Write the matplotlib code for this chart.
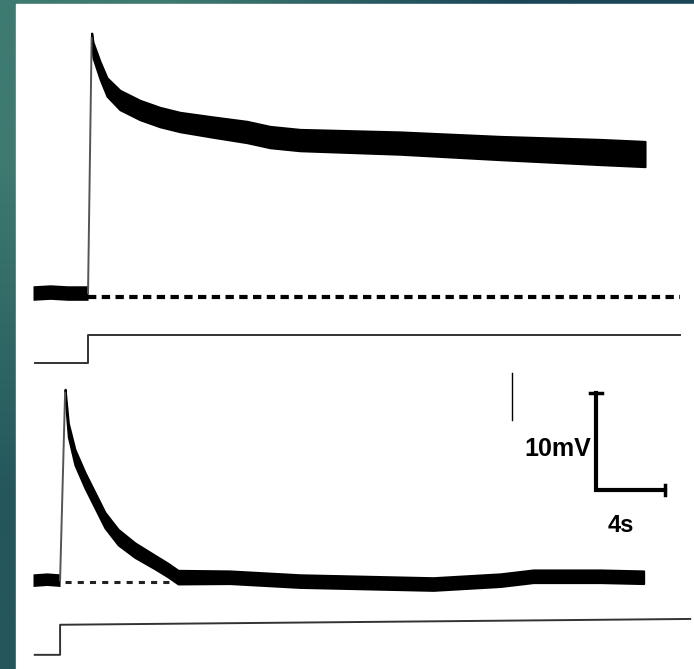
import numpy as np
import matplotlib.pyplot as plt
from matplotlib.patches import Rectangle

# upper record: time (s) and depolarisation (mV)
top_t = [0.0, 1.0, 2.0, 3.19, 3.40, 3.48, 3.88, 4.29, 5.04, 6.20, 7.36,
         8.52, 10.43, 12.41, 13.74, 15.48, 21.28, 27.07, 32.87, 35.48]
top_mv = [0.0, 0.1, 0.0, 0.0, 26.3, 25.05, 22.99, 21.24, 19.9, 18.87, 18.14,
          17.63, 17.11, 16.6, 16.08, 15.77, 15.46, 14.95, 14.54, 14.33]
top_noise = [0.75, 0.75, 0.75, 0.75, 0.5, 0.8, 0.9, 0.95, 1.0, 1.0, 1.0,
             1.0, 1.05, 1.1, 1.1, 1.1, 1.15, 1.2, 1.3, 1.3]

# lower record
bot_t = [0.0, 0.8, 1.57, 1.86, 2.05, 2.43, 3.01, 3.59, 4.17, 4.94, 5.91,
         7.07, 7.83, 8.41, 11.4, 15.5, 23.2, 27.1, 29.0, 32.9, 35.4]
bot_mv = [0.0, 0.1, 0.0, 19.28, 15.46, 12.68, 10.31, 8.25, 6.19, 4.43, 3.09,
          1.86, 1.03, 0.31, 0.3, -0.1, -0.4, 0.0, 0.4, 0.4, 0.3]
bot_noise = [0.65, 0.65, 0.65, 0.4, 0.7, 0.8, 0.8, 0.8, 0.8, 0.8, 0.75,
             0.7, 0.7, 0.7, 0.65, 0.65, 0.65, 0.65, 0.65, 0.65, 0.65]

# stimulus monitor traces (display mV)
stim_top_t = [0.1, 3.19, 3.19, 37.5]
stim_top_v = [-7.2, -7.2, -4.33, -4.33]
stim_bot_t = [0.1, 1.57, 1.57, 38.1]
stim_bot_v = [-7.7, -7.7, -4.6, -4.0]

# resting level reference (dashed)
rest_top_t = [3.19, 37.5]
rest_bot_t = [1.86, 7.9]

scale_mv = 10
scale_s = 4

# layout
bot_offset = -29.6
onset_top = 3
onset_bot = 2

fig = plt.figure(figsize=(6.94, 6.69), dpi=100)

# teal slide background
bg = fig.add_axes([0, 0, 1, 1])
grad = np.array([[[62, 122, 112], [26, 70, 88]],
                 [[36, 86, 92], [20, 52, 72]]]) / 255
bg.imshow(grad, extent=[0, 1, 0, 1], aspect='auto', interpolation='bilinear')
bg.add_patch(Rectangle((16 / 694, 0), 1, 1 - 4 / 669, color='white'))
bg.set_xlim(0, 1)
bg.set_ylim(0, 1)
bg.axis('off')

ax = fig.add_axes([0, 0, 1, 1])
ax.patch.set_alpha(0)
ax.set_xlim(-1.913, 38.32)
ax.set_ylim(-38.76, 30.21)
ax.axis('off')


def draw_trace(t, mv, noise, onset, offset):
    t = np.array(t)
    mv = np.array(mv) + offset
    nz = np.array(noise)
    # pre-stimulus baseline
    ax.fill_between(t[:onset + 1], mv[:onset + 1] - nz[:onset + 1],
                    mv[:onset + 1] + nz[:onset + 1], color='black', lw=0)
    # fast rise, thin
    ax.plot(t[onset:onset + 2], mv[onset:onset + 2], color='#555555', lw=1.4)
    # decay and plateau
    ax.fill_between(t[onset + 1:], mv[onset + 1:] - nz[onset + 1:],
                    mv[onset + 1:] + nz[onset + 1:], color='black', lw=1.5,
                    edgecolor='black')


draw_trace(top_t, top_mv, top_noise, onset_top, 0)
draw_trace(bot_t, bot_mv, bot_noise, onset_bot, bot_offset)

ax.plot(rest_top_t, [-0.4, -0.4], color='black', lw=3, dashes=(2.0, 1.3))
ax.plot(rest_bot_t, [bot_offset - 0.2] * 2, color='#222222', lw=2.2,
        dashes=(2.0, 2.0))

ax.plot(stim_top_t, stim_top_v, color='#333333', lw=1.4)
ax.plot(stim_bot_t, np.array(stim_bot_v) + bot_offset, color='#333333', lw=1.4)

# scale bars
sx, sy = 32.64, -20.3
ax.plot([sx, sx, sx + scale_s], [sy + scale_mv, sy, sy], color='black',
        lw=3, solid_joinstyle='miter')
ax.plot([sx - 0.35, sx + 0.35], [sy + scale_mv] * 2, color='black', lw=2.5)
ax.plot([sx + scale_s] * 2, [sy - 0.5, sy + 0.5], color='black', lw=2.5)
ax.text(sx - 0.3, sy + 4.2, f'{scale_mv}mV', ha='right', va='center',
        fontsize=18, fontweight='bold', family='Liberation Sans')
ax.text(sx + 1.45, sy - 3.7, f'{scale_s}s', ha='center', va='center',
        fontsize=17, fontweight='bold', family='Liberation Sans')

# stray mark on the original figure
ax.plot([27.77, 27.77], [-8.2, -13.1], color='black', lw=1)

fig.savefig('out.png', dpi=100)
